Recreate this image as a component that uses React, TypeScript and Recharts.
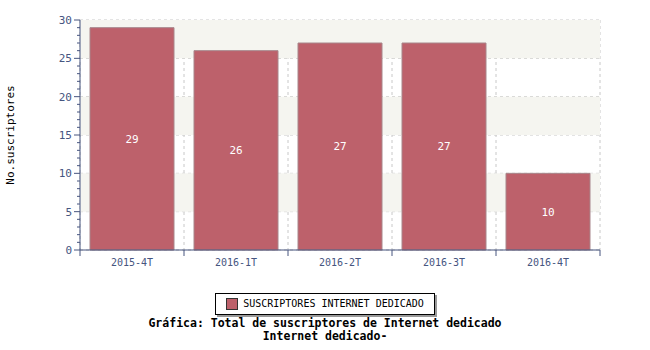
import {
  BarChart,
  Bar,
  XAxis,
  YAxis,
  CartesianGrid,
  ReferenceArea,
  LabelList,
  Legend,
} from "recharts";

const categories = ["2015-4T", "2016-1T", "2016-2T", "2016-3T", "2016-4T"];
const values = [29, 26, 27, 27, 10];
const majorTicks = [0, 5, 10, 15, 20, 25, 30];
const minorTicks = Array.from({ length: 31 }, (_, i) => i);
const seriesName = "SUSCRIPTORES INTERNET DEDICADO";
const titleLines = [
  "Gráfica: Total de suscriptores de Internet dedicado",
  "Internet dedicado-",
];

const data = categories.map((c, i) => ({ name: c, value: values[i] }));

const MONO = "'DejaVu Sans Mono', monospace";
const AXIS = "#46557f";
const BAR = "#bd616b";

// every other band between major ticks, starting from the top
const bands = majorTicks
  .slice(0, -1)
  .map((t, i) => [t, majorTicks[i + 1]])
  .filter((_, i) => i % 2 === 1);

// vertical grid lines sit on the category edges, not the centres
const edgeLines = ({ offset }: any) =>
  Array.from(
    { length: categories.length + 1 },
    (_, i) => offset.left + (i * offset.width) / categories.length
  );

function YTick(props: any) {
  const { x, y, payload } = props;
  const v = payload.value;
  const major = v % 5 === 0;
  return (
    <g>
      <line x1={x} x2={x - (major ? 6 : 3)} y1={y} y2={y} stroke={AXIS} />
      {major && (
        <text
          x={x - 8}
          y={y}
          dy={4}
          textAnchor="end"
          fontSize={11}
          fontFamily={MONO}
          fill={AXIS}
        >
          {v}
        </text>
      )}
    </g>
  );
}

// category label in the middle, tick marks on the band edges
function XTick(props: any) {
  const { x, y, payload, index, visibleTicksCount } = props;
  const half = payload.offset || 0;
  const last = index === visibleTicksCount - 1;
  return (
    <g>
      <line x1={x - half} x2={x - half} y1={y} y2={y + 6} stroke={AXIS} />
      {last && (
        <line x1={x + half} x2={x + half} y1={y} y2={y + 6} stroke={AXIS} />
      )}
      <text
        x={x}
        y={y}
        dy={16}
        textAnchor="middle"
        fontSize={10}
        fontFamily={MONO}
        fill={AXIS}
      >
        {payload.value}
      </text>
    </g>
  );
}

function LegendBox() {
  return (
    <div style={{ fontFamily: MONO, textAlign: "center" }}>
      <div
        style={{
          display: "inline-flex",
          alignItems: "center",
          border: "1px solid #000",
          boxShadow: "2px 2px 0 #999",
          background: "#fff",
          padding: "4px 10px 4px 10px",
          fontSize: 10,
          lineHeight: "12px",
          color: "#000",
        }}
      >
        <span
          style={{
            display: "inline-block",
            width: 10,
            height: 10,
            background: BAR,
            border: "1px solid #333",
            marginRight: 5,
          }}
        />
        {seriesName}
      </div>
      <div
        style={{
          marginTop: 2,
          fontSize: 11.5,
          fontWeight: "bold",
          lineHeight: "13px",
          color: "#000",
        }}
      >
        {titleLines.map((t) => (
          <div key={t}>{t}</div>
        ))}
      </div>
    </div>
  );
}

export default function App() {
  return (
    <div style={{ position: "absolute", left: 0, top: 0, background: "#fff" }}>
      <BarChart
        width={650}
        height={350}
        data={data}
        margin={{ top: 20, right: 50, bottom: 70, left: 0 }}
        barCategoryGap={10}
      >
        {bands.map(([a, b]) => (
          <ReferenceArea
            key={a}
            y1={a}
            y2={b}
            fill="#f5f5f0"
            fillOpacity={1}
            stroke="none"
            ifOverflow="visible"
          />
        ))}
        <CartesianGrid
          stroke="#c8c8c8"
          strokeDasharray="3 3"
          horizontalValues={majorTicks}
          verticalCoordinatesGenerator={edgeLines}
        />
        <XAxis
          dataKey="name"
          height={30}
          interval={0}
          axisLine={{ stroke: AXIS }}
          tickLine={false}
          tickSize={0}
          tickMargin={0}
          tick={<XTick />}
        />
        <YAxis
          width={80}
          domain={[0, 30]}
          ticks={minorTicks}
          interval={0}
          tickSize={0}
          tickMargin={0}
          tickLine={false}
          axisLine={{ stroke: AXIS }}
          tick={<YTick />}
          label={{
            value: "No.suscriptores",
            angle: -90,
            position: "insideLeft",
            offset: 10,
            style: { textAnchor: "middle", fontSize: 11, fontFamily: MONO, fill: "#000" },
          }}
        />
        <Legend
          content={<LegendBox />}
          layout="horizontal"
          verticalAlign="middle"
          align="center"
          wrapperStyle={{ top: 293, left: 0, width: 650 }}
        />
        <Bar
          dataKey="value"
          name={seriesName}
          fill={BAR}
          stroke="#a8868b"
          strokeWidth={1}
          isAnimationActive={false}
        >
          <LabelList
            dataKey="value"
            position="center"
            fill="#fff"
            fontSize={11}
            fontFamily={MONO}
          />
        </Bar>
      </BarChart>
    </div>
  );
}
